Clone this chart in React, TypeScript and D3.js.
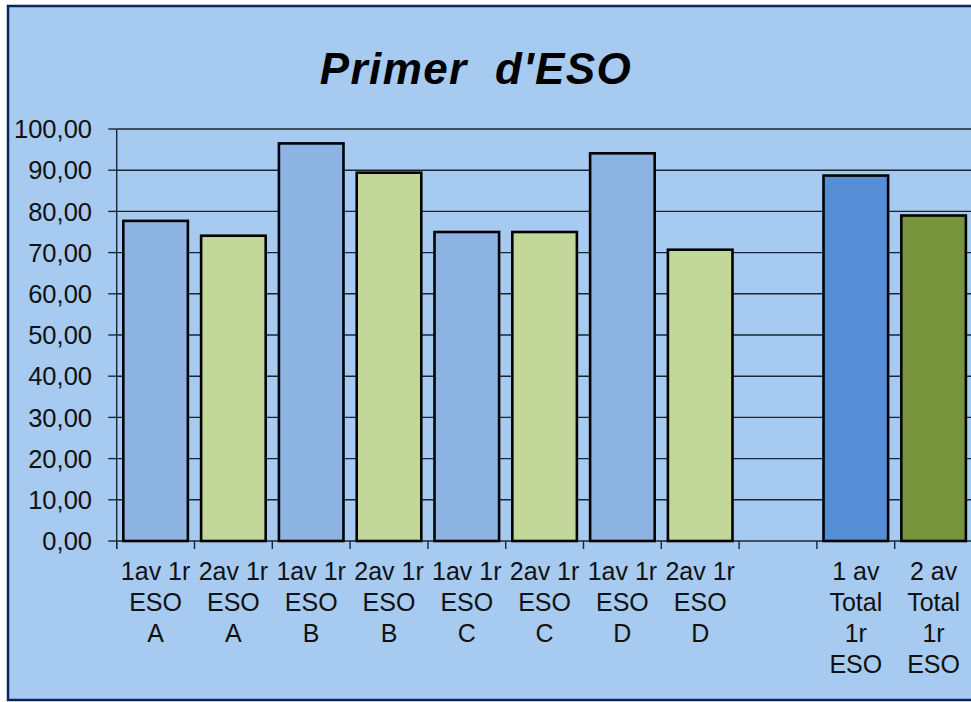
import React from "react";
import * as d3 from "d3";

const categories: string[] = [
  "1av 1r\nESO\nA",
  "2av 1r\nESO\nA",
  "1av 1r\nESO\nB",
  "2av 1r\nESO\nB",
  "1av 1r\nESO\nC",
  "2av 1r\nESO\nC",
  "1av 1r\nESO\nD",
  "2av 1r\nESO\nD",
  "",
  "1 av\nTotal\n1r\nESO",
  "2 av\nTotal\n1r\nESO",
];
const values: (number | null)[] = [77.7, 74.1, 96.5, 89.4, 75.0, 75.0, 94.1, 70.7, null, 88.7, 79.0];
const barColors: string[] = [
  "#8DB3E2", "#C4D79B", "#8DB3E2", "#C4D79B", "#8DB3E2", "#C4D79B",
  "#8DB3E2", "#C4D79B", "none", "#558ED5", "#77933C",
];
const yTicks: number[] = [0, 10, 20, 30, 40, 50, 60, 70, 80, 90, 100];
const title = "Primer  d'ESO";

const W = 971;
const H = 702;
const left = 116.7;
const step = 77.8;
const bottom = 541;
const top = 129;

export default function App() {
  const x = d3
    .scaleBand<number>()
    .domain(categories.map((_, i) => i))
    .range([left, left + step * categories.length])
    .paddingInner(0.17)
    .paddingOuter(0.085);
  const y = d3.scaleLinear().domain([0, 100]).range([bottom, top]);
  const fmt = (v: number) => v.toFixed(2).replace(".", ",");
  const font = "'Liberation Sans', Arial, sans-serif";
  const gridColor = "#1c2633";
  const xRight = left + step * categories.length + 10;

  return (
    <svg
      width={W}
      height={H}
      style={{ position: "absolute", left: 0, top: 0, display: "block" }}
      fontFamily={font}
    >
      <rect x={0} y={0} width={W} height={H} fill="#ffffff" />
      <rect x={8} y={6} width={W + 20} height={694} fill="#A6CAF0" stroke="#0A265E" strokeWidth={2.5} />
      <text
        x={476}
        y={84}
        textAnchor="middle"
        fontSize={44}
        fontWeight="bold"
        fontStyle="italic"
        letterSpacing={1.4}
        style={{ whiteSpace: "pre" }}
        fill="#000"
      >
        {title}
      </text>
      {yTicks.map((t) => (
        <g key={t}>
          <line x1={left} x2={xRight} y1={y(t)} y2={y(t)} stroke={gridColor} strokeWidth={1.4} />
          <line x1={left - 8.5} x2={left} y1={y(t)} y2={y(t)} stroke={gridColor} strokeWidth={1.4} />
          <text x={92} y={y(t)} dy="0.36em" textAnchor="end" fontSize={25.5} fill="#111">
            {fmt(t)}
          </text>
        </g>
      ))}
      <line x1={left} x2={left} y1={top} y2={bottom + 8} stroke={gridColor} strokeWidth={1.4} />
      {categories.map((_, i) => (
        <line
          key={"xt" + i}
          x1={left + step * i}
          x2={left + step * i}
          y1={bottom}
          y2={bottom + 8}
          stroke={gridColor}
          strokeWidth={1.4}
        />
      ))}
      {values.map((v, i) =>
        v === null ? null : (
          <rect
            key={"b" + i}
            x={x(i)!}
            y={y(v)}
            width={x.bandwidth()}
            height={y(0) - y(v)}
            fill={barColors[i]}
            stroke="#000"
            strokeWidth={2.6}
          />
        )
      )}
      {categories.map((c, i) => {
        const cx = x(i)! + x.bandwidth() / 2;
        return (
          <text key={"l" + i} textAnchor="middle" fontSize={25} fill="#111" style={{ whiteSpace: "pre" }}>
            {c.split("\n").map((line, j) => (
              <tspan key={j} x={cx} y={580 + j * 31}>
                {line}
              </tspan>
            ))}
          </text>
        );
      })}
    </svg>
  );
}
